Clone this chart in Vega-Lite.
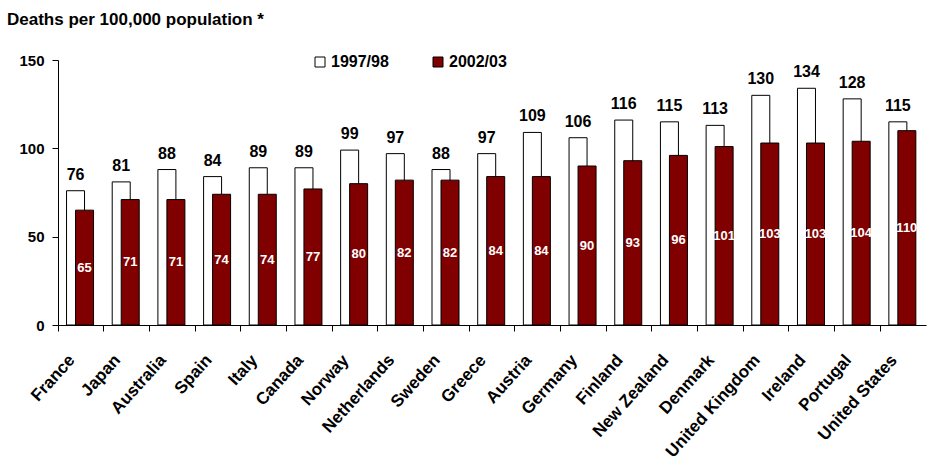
{
  "$schema": "https://vega.github.io/schema/vega-lite/v6.json",
  "width": 868,
  "height": 265,
  "autosize": {"type": "none"},
  "padding": {"left": 58, "top": 60, "right": 2, "bottom": 149},
  "background": "white",
  "config": {
    "font": "Liberation Sans",
    "view": {"stroke": null}
  },
  "title": {
    "text": "Deaths per 100,000 population *",
    "anchor": "start",
    "frame": "group",
    "dx": -51,
    "offset": 24,
    "fontSize": 17,
    "fontWeight": "bold",
    "font": "Liberation Sans",
    "color": "black"
  },
  "data": {
    "values": [
      {"country": "France", "series": "1997/98", "value": 76},
      {"country": "Japan", "series": "1997/98", "value": 81},
      {"country": "Australia", "series": "1997/98", "value": 88},
      {"country": "Spain", "series": "1997/98", "value": 84},
      {"country": "Italy", "series": "1997/98", "value": 89},
      {"country": "Canada", "series": "1997/98", "value": 89},
      {"country": "Norway", "series": "1997/98", "value": 99},
      {"country": "Netherlands", "series": "1997/98", "value": 97},
      {"country": "Sweden", "series": "1997/98", "value": 88},
      {"country": "Greece", "series": "1997/98", "value": 97},
      {"country": "Austria", "series": "1997/98", "value": 109},
      {"country": "Germany", "series": "1997/98", "value": 106},
      {"country": "Finland", "series": "1997/98", "value": 116},
      {"country": "New Zealand", "series": "1997/98", "value": 115},
      {"country": "Denmark", "series": "1997/98", "value": 113},
      {"country": "United Kingdom", "series": "1997/98", "value": 130},
      {"country": "Ireland", "series": "1997/98", "value": 134},
      {"country": "Portugal", "series": "1997/98", "value": 128},
      {"country": "United States", "series": "1997/98", "value": 115},
      {"country": "France", "series": "2002/03", "value": 65},
      {"country": "Japan", "series": "2002/03", "value": 71},
      {"country": "Australia", "series": "2002/03", "value": 71},
      {"country": "Spain", "series": "2002/03", "value": 74},
      {"country": "Italy", "series": "2002/03", "value": 74},
      {"country": "Canada", "series": "2002/03", "value": 77},
      {"country": "Norway", "series": "2002/03", "value": 80},
      {"country": "Netherlands", "series": "2002/03", "value": 82},
      {"country": "Sweden", "series": "2002/03", "value": 82},
      {"country": "Greece", "series": "2002/03", "value": 84},
      {"country": "Austria", "series": "2002/03", "value": 84},
      {"country": "Germany", "series": "2002/03", "value": 90},
      {"country": "Finland", "series": "2002/03", "value": 93},
      {"country": "New Zealand", "series": "2002/03", "value": 96},
      {"country": "Denmark", "series": "2002/03", "value": 101},
      {"country": "United Kingdom", "series": "2002/03", "value": 103},
      {"country": "Ireland", "series": "2002/03", "value": 103},
      {"country": "Portugal", "series": "2002/03", "value": 104},
      {"country": "United States", "series": "2002/03", "value": 110}
    ]
  },
  "encoding": {
    "x": {
      "field": "country",
      "type": "nominal",
      "sort": null,
      "scale": {"paddingInner": 0.409, "paddingOuter": 0.2045},
      "axis": {
        "title": null,
        "bandPosition": -0.346,
        "labelAngle": -48,
        "labelAlign": "right",
        "labelBaseline": "middle",
        "labelFontSize": 17,
        "labelFontWeight": "bold",
        "labelColor": "black",
        "labelPadding": 26,
        "labelOffset": -9,
        "labelOverlap": false,
        "tickSize": 6,
        "tickColor": "black",
        "domainColor": "black"
      }
    },
    "xOffset": {
      "field": "series",
      "type": "nominal",
      "scale": {"domain": ["1997/98", "2002/03"], "paddingInner": 0, "paddingOuter": 0.5, "align": 0.41}
    }
  },
  "layer": [
    {
      "mark": {"type": "bar", "stroke": "black", "strokeWidth": 1, "width": 18},
      "encoding": {
        "y": {
          "field": "value",
          "type": "quantitative",
          "scale": {"domain": [0, 150], "nice": false},
          "axis": {
            "title": null,
            "values": [0, 50, 100, 150],
            "grid": false,
            "labelFontSize": 15,
            "labelFontWeight": "bold",
            "labelColor": "black",
            "labelPadding": 8,
            "tickSize": 6,
            "tickColor": "black",
            "domainColor": "black"
          }
        },
        "fill": {
          "field": "series",
          "type": "nominal",
          "scale": {"domain": ["1997/98", "2002/03"], "range": ["white", "#800000"]},
          "legend": {
            "title": null,
            "orient": "none",
            "legendX": 254,
            "legendY": -6,
            "direction": "horizontal",
            "symbolType": "square",
            "symbolSize": 100,
            "symbolStrokeColor": "black",
            "symbolStrokeWidth": 1,
            "labelFontSize": 16,
            "labelFontWeight": "bold",
            "labelColor": "black",
            "labelOffset": 3,
            "columnPadding": 41
          }
        }
      }
    },
    {
      "transform": [{"filter": "datum.series === '1997/98'"}],
      "mark": {"type": "text", "fontSize": 16, "fontWeight": "bold", "color": "black", "baseline": "alphabetic", "dy": -11},
      "encoding": {
        "y": {"field": "value", "type": "quantitative", "scale": {"domain": [0, 150], "nice": false}, "axis": null},
        "text": {"field": "value", "type": "quantitative"}
      }
    },
    {
      "transform": [{"filter": "datum.series === '2002/03'"}],
      "mark": {"type": "text", "fontSize": 13, "fontWeight": "bold", "color": "white", "baseline": "middle"},
      "encoding": {
        "y": {"field": "value", "type": "quantitative", "scale": {"domain": [0, 300], "nice": false}, "axis": null},
        "text": {"field": "value", "type": "quantitative"}
      }
    }
  ],
  "resolve": {"scale": {"y": "independent"}}
}
